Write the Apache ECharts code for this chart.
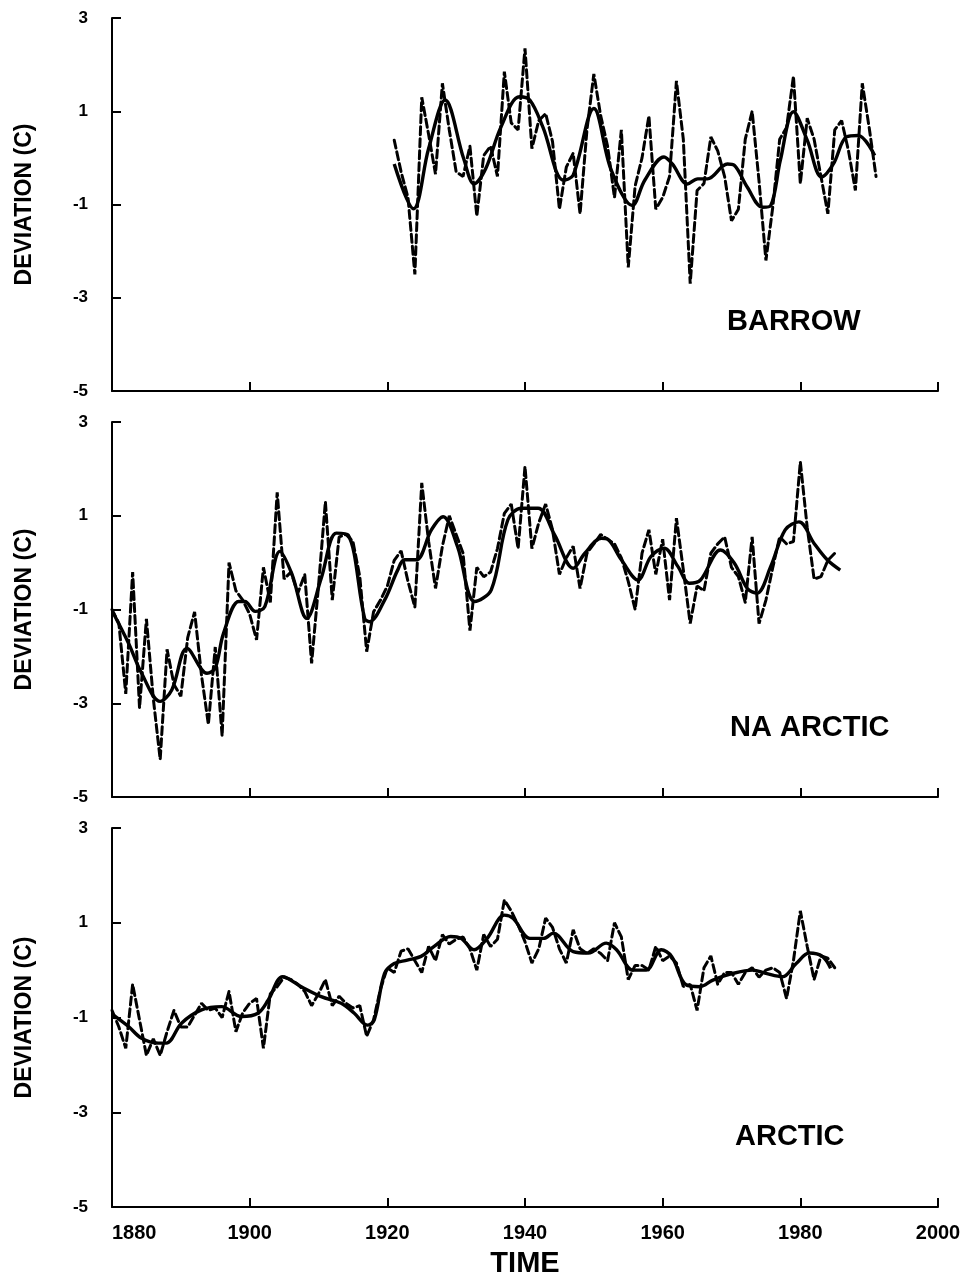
<!DOCTYPE html>
<html>
<head>
<meta charset="utf-8">
<title>Temperature deviation</title>
<script src="https://cdn.jsdelivr.net/npm/echarts@6/dist/echarts.min.js"></script>
<style>
  html, body { margin: 0; padding: 0; background: #fff; }
  #chart { width: 973px; height: 1282px; }
</style>
</head>
<body>
<div id="chart"></div>
<script>
// ---- data ----
var xTicks = [1880, 1900, 1920, 1940, 1960, 1980, 2000];
var panelNames = ['BARROW', 'NA ARCTIC', 'ARCTIC'];

// Barrow, annual values 1921-1991 (dashed)
var barrowStart = 1921;
var barrowAnnual = [
   0.38, -0.3, -0.85, -2.5, 1.3, 0.5, -0.35, 1.6, 0.6, -0.3,
  -0.4, 0.25, -1.25, 0.05, 0.25, -0.4, 1.85, 0.75, 0.6, 2.35,
   0.2, 0.8, 0.95, 0.35, -1.1, -0.2, 0.1, -1.2, 0.6, 1.8,
   0.9, 0.25, -0.85, 0.6, -2.35, -0.6, 0.0, 0.9, -1.1, -0.85,
  -0.4, 1.65, 0.4, -2.7, -0.7, -0.55, 0.45, 0.15, -0.4, -1.35,
  -1.1, 0.4, 1.0, -0.5, -2.2, -1.05, 0.4, 0.65, 1.75, -0.55,
   0.85, 0.4, -0.4, -1.2, 0.6, 0.8, 0.15, -0.7, 1.6, 0.65,
  -0.4
];
// Barrow, smoothed curve (solid)
var barrowSmoothYears = [1921, 1923.8, 1926, 1928.4, 1931.1, 1932.6, 1934.3, 1936.5, 1939.2, 1940.7,
  1942.6, 1945.6, 1947, 1950, 1952.5, 1955.6, 1957.4, 1960.2, 1961.4, 1963.6, 1965.1, 1966.5,
  1969.4, 1970.4, 1972.3, 1974.5, 1975.7, 1977.1, 1979, 1981, 1983.1, 1984.8, 1986.7, 1988.4, 1990.8];
var barrowSmoothVals = [-0.13, -1.09, 0.2, 1.24, -0.02, -0.56, -0.23, 0.66, 1.31, 1.24,
  0.66, -0.48, -0.37, 1.06, -0.25, -1.02, -0.48, 0.02, -0.13, -0.56, -0.45, -0.45,
  -0.13, -0.16, -0.63, -1.06, -1.02, -0.05, 0.99, 0.38, -0.41, -0.13, 0.45, 0.48, 0.05];

// North American Arctic, annual values 1880-1985 (dashed)
var naStart = 1880;
var naAnnual = [
  -1.0, -1.3, -2.8, -0.2, -3.1, -1.2, -2.9, -4.2, -1.85, -2.6,
  -2.85, -1.6, -1.05, -2.4, -3.45, -1.8, -3.7, 0.0, -0.6, -0.8,
  -1.1, -1.65, -0.1, -0.85, 1.5, -0.35, -0.2, -0.65, -0.25, -2.15,
  -0.5, 1.3, -0.8, 0.55, 0.6, 0.45, -0.3, -1.9, -1.05, -0.8,
  -0.5, 0.05, 0.25, -0.4, -0.95, 1.7, 0.45, -0.55, 0.35, 1.0,
   0.6, 0.2, -1.45, -0.1, -0.3, -0.2, 0.3, 1.05, 1.25, 0.3,
   2.05, 0.3, 0.85, 1.25, 0.7, -0.25, 0.1, 0.35, -0.55, 0.2,
   0.4, 0.6, 0.5, 0.4, 0.1, -0.4, -1.0, 0.2, 0.7, -0.25,
   0.5, -0.8, 0.95, -0.15, -1.3, -0.5, -0.6, 0.2, 0.4, 0.55,
  -0.1, -0.3, -0.85, 0.55, -1.3, -0.8, -0.1, 0.55, 0.4, 0.45,
   2.15, 0.75, -0.35, -0.3, 0.05, 0.2
];
var naSmoothYears = [1880.2, 1882.4, 1884.3, 1887, 1888.7, 1890.9, 1893.8, 1895, 1896.2, 1898.4,
  1899.3, 1900.8, 1902.2, 1904.4, 1906.1, 1908.3, 1910.4, 1912.6, 1914.3, 1916.7, 1917.4,
  1919.6, 1921.5, 1922.5, 1924.2, 1926.4, 1928.1, 1930.2, 1932.7, 1935.1, 1937.5, 1939.5,
  1941.9, 1944.3, 1947, 1948.7, 1951.1, 1952, 1954, 1956.4, 1958.3, 1960.2, 1962.2, 1963.9,
  1965.5, 1968.4, 1970.4, 1972.3, 1973.7, 1975.7, 1977.8, 1979.8, 1982, 1983.9, 1985.8];
var naSmoothVals = [-1.08, -1.72, -2.36, -2.96, -2.71, -1.83, -2.36, -2.25, -1.51, -0.83,
  -0.83, -1.04, -0.94, 0.24, -0.23, -1.19, -0.33, 0.63, 0.59, -1.19, -1.26,
  -0.8, -0.16, 0.06, 0.06, 0.7, 0.98, 0.34, -0.83, -0.58, 0.91, 1.16,
  1.16, 0.59, -0.12, 0.2, 0.52, 0.5, 0.06, -0.37, 0.13, 0.31, -0.08, -0.44,
  -0.37, 0.27, -0.01, -0.55, -0.65, -0.08, 0.7, 0.87, 0.41, 0.06, -0.16];

// Arctic, annual values 1880-1985 (dashed)
var arcStart = 1880;
var arcAnnual = [
  -0.85, -1.2, -1.65, -0.3, -1.05, -1.8, -1.45, -1.8, -1.3, -0.85,
  -1.2, -1.2, -0.95, -0.7, -0.85, -0.8, -1.0, -0.45, -1.3, -0.9,
  -0.7, -0.6, -1.65, -0.5, -0.35, -0.15, -0.2, -0.3, -0.45, -0.75,
  -0.5, -0.2, -0.75, -0.55, -0.7, -0.8, -0.75, -1.4, -1.05, -0.4,
   0.05, -0.05, 0.4, 0.45, 0.2, -0.05, 0.5, 0.2, 0.75, 0.55,
   0.65, 0.7, 0.45, 0.0, 0.75, 0.5, 0.65, 1.48, 1.25, 0.95,
   0.6, 0.15, 0.45, 1.1, 0.9, 0.45, 0.15, 0.85, 0.45, 0.35,
   0.45, 0.35, 0.2, 1.0, 0.7, -0.2, 0.1, 0.1, 0.0, 0.5,
   0.2, 0.3, 0.15, -0.35, -0.3, -0.85, 0.05, 0.3, -0.3, -0.05,
  -0.05, -0.3, -0.05, 0.05, -0.15, 0.0, 0.05, -0.05, -0.6, 0.2,
   1.25, 0.5, -0.2, 0.3, 0.25, 0.05
];
var arcSmoothYears = [1880.2, 1882.4, 1884.3, 1886.7, 1887.9, 1890.1, 1893, 1895.9, 1898.8, 1901.2,
  1902.7, 1904.8, 1907.5, 1910.4, 1913.3, 1915.2, 1917.1, 1918.1, 1919.6, 1921, 1922.9,
  1924.9, 1926.8, 1929.2, 1930.7, 1932.6, 1934.5, 1937, 1938.3, 1940.7, 1942.7, 1944.1,
  1947, 1949.2, 1951.8, 1953.3, 1955.7, 1957.6, 1959.8, 1961.3, 1963.4, 1965.4, 1967.3,
  1970.2, 1973.1, 1975, 1977.4, 1979.4, 1981.3, 1983.2, 1984.4];
var arcSmoothVals = [-0.95, -1.19, -1.44, -1.54, -1.54, -1.12, -0.84, -0.77, -0.98, -0.91,
  -0.63, -0.14, -0.35, -0.56, -0.7, -0.91, -1.16, -1.05, -0.07, 0.14, 0.21,
  0.29, 0.5, 0.71, 0.67, 0.43, 0.67, 1.16, 1.09, 0.67, 0.67, 0.78,
  0.39, 0.36, 0.57, 0.43, 0.0, 0.0, 0.43, 0.29, -0.31, -0.35, -0.21,
  -0.07, 0.0, -0.07, -0.14, 0.14, 0.36, 0.29, 0.04];

// ---- helpers ----
function annual(start, vals) {
  return vals.map(function (v, i) { return [start + i, v]; });
}
function zipXY(xs, ys) {
  return xs.map(function (x, i) { return [x, ys[i]]; });
}

var font = '"Liberation Sans", Arial, Helvetica, sans-serif';
var panels = [
  { top: 18, height: 373, labelLeft: 722, labelTop: 302 },
  { top: 422, height: 375, labelLeft: 725, labelTop: 708 },
  { top: 828, height: 379, labelLeft: 730, labelTop: 1117 }
];

var grids = [], xAxes = [], yAxes = [], titles = [];
panels.forEach(function (p, i) {
  grids.push({ left: 112, width: 826, top: p.top, height: p.height });
  xAxes.push({
    gridIndex: i, type: 'value', min: xTicks[0], max: xTicks[xTicks.length - 1], interval: 20,
    axisLine: { onZero: false, lineStyle: { color: '#000', width: 2 } },
    axisTick: { show: true, inside: true, length: 9, lineStyle: { color: '#000', width: 2 } },
    splitLine: { show: false },
    axisLabel: {
      show: i === 2, color: '#000', fontFamily: font, fontWeight: 'bold', fontSize: 20, margin: 16,
      alignMinLabel: 'left',
      formatter: function (v) { return String(v); }
    },
    name: i === 2 ? 'TIME' : '',
    nameLocation: 'middle', nameGap: 42,
    nameTextStyle: { color: '#000', fontFamily: font, fontWeight: 'bold', fontSize: 29 }
  });
  yAxes.push({
    gridIndex: i, type: 'value', min: -5, max: 3, interval: 2,
    axisLine: { show: true, onZero: false, lineStyle: { color: '#000', width: 2 } },
    axisTick: { show: true, inside: true, length: 9, lineStyle: { color: '#000', width: 2 } },
    splitLine: { show: false },
    axisLabel: { color: '#000', fontFamily: font, fontWeight: 'bold', fontSize: 17, margin: 24 },
    name: 'DEVIATION (C)', nameLocation: 'middle', nameGap: 76,
    nameTextStyle: { color: '#000', fontFamily: font, fontWeight: 'bold', fontSize: 23 }
  });
  titles.push({
    text: panelNames[i], left: p.labelLeft, top: p.labelTop,
    textStyle: { color: '#000', fontFamily: font, fontWeight: 'bold', fontSize: 29 }
  });
});

function dashed(idx, data) {
  return {
    type: 'line', xAxisIndex: idx, yAxisIndex: idx, data: data, symbol: 'none',
    lineStyle: { color: '#000', width: 3, type: [8, 4], cap: 'round' }, silent: true
  };
}
function solid(idx, data) {
  return {
    type: 'line', xAxisIndex: idx, yAxisIndex: idx, data: data, symbol: 'none', smooth: 0.35,
    lineStyle: { color: '#000', width: 3.4 }, silent: true
  };
}

var chart = echarts.init(document.getElementById('chart'));
chart.setOption({
  animation: false,
  backgroundColor: '#fff',
  title: titles,
  grid: grids,
  xAxis: xAxes,
  yAxis: yAxes,
  series: [
    dashed(0, annual(barrowStart, barrowAnnual)),
    solid(0, zipXY(barrowSmoothYears, barrowSmoothVals)),
    dashed(1, annual(naStart, naAnnual)),
    solid(1, zipXY(naSmoothYears, naSmoothVals)),
    dashed(2, annual(arcStart, arcAnnual)),
    solid(2, zipXY(arcSmoothYears, arcSmoothVals))
  ]
});
</script>
</body>
</html>
